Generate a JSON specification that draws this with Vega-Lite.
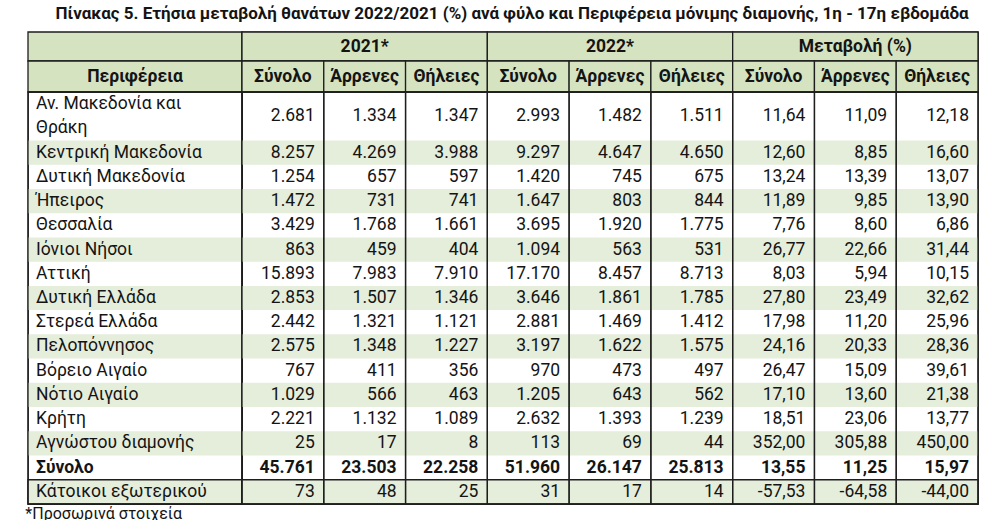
{
  "$schema": "https://vega.github.io/schema/vega-lite/v6.json",
  "padding": {"left": 24, "top": 4, "right": 0, "bottom": 0},
  "title": {
    "text": "Πίνακας 5. Ετήσια μεταβολή θανάτων 2022/2021 (%) ανά φύλο και Περιφέρεια μόνιμης διαμονής, 1η - 17η εβδομάδα",
    "fontSize": 17,
    "fontWeight": "bold",
    "anchor": "middle",
    "offset": 8,
    "dx": 10
  },
  "datasets": {
    "rows": [
      {"region": "Αν. Μακεδονία και\nΘράκη", "t21": 2681, "m21": 1334, "f21": 1347, "t22": 2993, "m22": 1482, "f22": 1511, "tc": 11.64, "mc": 11.09, "fc": 12.18},
      {"region": "Κεντρική Μακεδονία", "t21": 8257, "m21": 4269, "f21": 3988, "t22": 9297, "m22": 4647, "f22": 4650, "tc": 12.60, "mc": 8.85, "fc": 16.60},
      {"region": "Δυτική Μακεδονία", "t21": 1254, "m21": 657, "f21": 597, "t22": 1420, "m22": 745, "f22": 675, "tc": 13.24, "mc": 13.39, "fc": 13.07},
      {"region": "Ήπειρος", "t21": 1472, "m21": 731, "f21": 741, "t22": 1647, "m22": 803, "f22": 844, "tc": 11.89, "mc": 9.85, "fc": 13.90},
      {"region": "Θεσσαλία", "t21": 3429, "m21": 1768, "f21": 1661, "t22": 3695, "m22": 1920, "f22": 1775, "tc": 7.76, "mc": 8.60, "fc": 6.86},
      {"region": "Ιόνιοι Νήσοι", "t21": 863, "m21": 459, "f21": 404, "t22": 1094, "m22": 563, "f22": 531, "tc": 26.77, "mc": 22.66, "fc": 31.44},
      {"region": "Αττική", "t21": 15893, "m21": 7983, "f21": 7910, "t22": 17170, "m22": 8457, "f22": 8713, "tc": 8.03, "mc": 5.94, "fc": 10.15},
      {"region": "Δυτική Ελλάδα", "t21": 2853, "m21": 1507, "f21": 1346, "t22": 3646, "m22": 1861, "f22": 1785, "tc": 27.80, "mc": 23.49, "fc": 32.62},
      {"region": "Στερεά Ελλάδα", "t21": 2442, "m21": 1321, "f21": 1121, "t22": 2881, "m22": 1469, "f22": 1412, "tc": 17.98, "mc": 11.20, "fc": 25.96},
      {"region": "Πελοπόννησος", "t21": 2575, "m21": 1348, "f21": 1227, "t22": 3197, "m22": 1622, "f22": 1575, "tc": 24.16, "mc": 20.33, "fc": 28.36},
      {"region": "Βόρειο Αιγαίο", "t21": 767, "m21": 411, "f21": 356, "t22": 970, "m22": 473, "f22": 497, "tc": 26.47, "mc": 15.09, "fc": 39.61},
      {"region": "Νότιο Αιγαίο", "t21": 1029, "m21": 566, "f21": 463, "t22": 1205, "m22": 643, "f22": 562, "tc": 17.10, "mc": 13.60, "fc": 21.38},
      {"region": "Κρήτη", "t21": 2221, "m21": 1132, "f21": 1089, "t22": 2632, "m22": 1393, "f22": 1239, "tc": 18.51, "mc": 23.06, "fc": 13.77},
      {"region": "Αγνώστου διαμονής", "t21": 25, "m21": 17, "f21": 8, "t22": 113, "m22": 69, "f22": 44, "tc": 352.00, "mc": 305.88, "fc": 450.00},
      {"region": "Σύνολο", "t21": 45761, "m21": 23503, "f21": 22258, "t22": 51960, "m22": 26147, "f22": 25813, "tc": 13.55, "mc": 11.25, "fc": 15.97},
      {"region": "Κάτοικοι εξωτερικού", "t21": 73, "m21": 48, "f21": 25, "t22": 31, "m22": 17, "f22": 14, "tc": -57.53, "mc": -64.58, "fc": -44.00}
    ],
    "groups": [
      {"grp": "2021*"},
      {"grp": "2022*"},
      {"grp": "Μεταβολή (%)"}
    ],
    "measures": [
      {"col": "t21", "label": "Σύνολο"},
      {"col": "m21", "label": "Άρρενες"},
      {"col": "f21", "label": "Θήλειες"},
      {"col": "t22", "label": "Σύνολο"},
      {"col": "m22", "label": "Άρρενες"},
      {"col": "f22", "label": "Θήλειες"},
      {"col": "tc", "label": "Σύνολο"},
      {"col": "mc", "label": "Άρρενες"},
      {"col": "fc", "label": "Θήλειες"}
    ]
  },
  "columns": 2,
  "spacing": 0,
  "bounds": "flush",
  "concat": [
    {
      "width": 214,
      "height": 29,
      "data": {"values": [{}]},
      "mark": {"type": "rect", "fill": "#d5e3c1", "stroke": "#1e1e1e", "strokeWidth": 1.3},
      "encoding": {}
    },
    {
      "width": 736,
      "height": 29,
      "data": {"name": "groups"},
      "encoding": {
        "x": {"field": "grp", "type": "nominal", "axis": null,
          "scale": {"type": "band", "domain": ["2021*", "2022*", "Μεταβολή (%)"], "paddingInner": 0, "paddingOuter": 0}}
      },
      "layer": [
        {"mark": {"type": "rect", "fill": "#d5e3c1", "stroke": "#1e1e1e", "strokeWidth": 1.3}},
        {"mark": {"type": "text", "fontWeight": "bold", "align": "center"}, "encoding": {"text": {"field": "grp"}}}
      ]
    },
    {
      "width": 214,
      "height": 31,
      "data": {"values": [{"label": "Περιφέρεια"}]},
      "layer": [
        {
          "mark": {"type": "rect", "fill": "#d5e3c1", "stroke": "#1e1e1e", "strokeWidth": 1.3},
          "encoding": {}
        },
        {
          "mark": {"type": "text", "fontWeight": "bold", "align": "center"},
          "encoding": {"text": {"field": "label"}}
        }
      ]
    },
    {
      "width": 736,
      "height": 31,
      "data": {"name": "measures"},
      "encoding": {
        "x": {"field": "col", "type": "nominal", "axis": null,
          "scale": {"type": "band", "domain": ["t21", "m21", "f21", "t22", "m22", "f22", "tc", "mc", "fc"], "paddingInner": 0, "paddingOuter": 0}}
      },
      "layer": [
        {"mark": {"type": "rect", "fill": "#d5e3c1", "stroke": "#1e1e1e", "strokeWidth": 1.3}},
        {"mark": {"type": "text", "fontWeight": "bold", "align": "center"}, "encoding": {"text": {"field": "label"}}}
      ]
    },
    {
      "width": 214,
      "height": 412,
      "data": {"name": "rows"},
      "title": {"text": "*Προσωρινά στοιχεία", "orient": "bottom", "anchor": "start", "fontSize": 16, "fontWeight": "normal", "offset": 1, "dx": -2},
      "layer": [
        {
          "transform": [
            {"window": [{"op": "row_number", "as": "n"}]},
            {"filter": "datum.n % 2 === 0"}
          ],
          "mark": {"type": "rect", "fill": "#e5eddb"},
          "encoding": {
            "y": {"field": "region", "type": "nominal", "axis": null,
              "scale": {"type": "band", "paddingInner": 0, "paddingOuter": 0,
                "domain": ["Αν. Μακεδονία και\nΘράκη", "_", "Κεντρική Μακεδονία", "Δυτική Μακεδονία", "Ήπειρος", "Θεσσαλία", "Ιόνιοι Νήσοι", "Αττική", "Δυτική Ελλάδα", "Στερεά Ελλάδα", "Πελοπόννησος", "Βόρειο Αιγαίο", "Νότιο Αιγαίο", "Κρήτη", "Αγνώστου διαμονής", "Σύνολο", "Κάτοικοι εξωτερικού"]}}
          }
        },
        {
          "transform": [{"filter": "datum.region === 'Κάτοικοι εξωτερικού'"}],
          "mark": {"type": "rect", "filled": false, "stroke": "#1e1e1e", "strokeWidth": 1.3},
          "encoding": {
            "y": {"field": "region", "type": "nominal", "axis": null}
          }
        },
        {
          "data": {"values": [{}]},
          "mark": {"type": "rect", "filled": false, "stroke": "#1e1e1e", "strokeWidth": 1.3},
          "encoding": {}
        },
        {
          "transform": [{"filter": "datum.region !== 'Σύνολο' && !test(/Θράκη/, datum.region)"}],
          "mark": {"type": "text", "align": "left", "dx": 8},
          "encoding": {
            "x": {"datum": "Περιφέρεια", "type": "nominal", "bandPosition": 0, "axis": null,
              "scale": {"type": "band", "domain": ["Περιφέρεια"], "paddingInner": 0, "paddingOuter": 0}},
            "y": {"field": "region", "type": "nominal", "axis": null},
            "text": {"field": "region"}
          }
        },
        {
          "transform": [{"filter": "test(/Θράκη/, datum.region)"}],
          "mark": {"type": "text", "align": "left", "dx": 8, "dy": 0, "lineBreak": "\n", "lineHeight": 24},
          "encoding": {
            "x": {"datum": "Περιφέρεια", "type": "nominal", "bandPosition": 0, "axis": null},
            "y": {"field": "region", "type": "nominal", "axis": null},
            "text": {"field": "region"}
          }
        },
        {
          "transform": [{"filter": "datum.region === 'Σύνολο'"}],
          "mark": {"type": "text", "align": "left", "dx": 8, "fontWeight": "bold"},
          "encoding": {
            "x": {"datum": "Περιφέρεια", "type": "nominal", "bandPosition": 0, "axis": null},
            "y": {"field": "region", "type": "nominal", "axis": null},
            "text": {"field": "region"}
          }
        }
      ]
    },
    {
      "width": 736,
      "height": 412,
      "data": {"name": "rows"},
      "layer": [
        {
          "transform": [
            {"window": [{"op": "row_number", "as": "n"}]},
            {"filter": "datum.n % 2 === 0"}
          ],
          "mark": {"type": "rect", "fill": "#e5eddb"},
          "encoding": {
            "y": {"field": "region", "type": "nominal", "axis": null,
              "scale": {"type": "band", "paddingInner": 0, "paddingOuter": 0,
                "domain": ["Αν. Μακεδονία και\nΘράκη", "_", "Κεντρική Μακεδονία", "Δυτική Μακεδονία", "Ήπειρος", "Θεσσαλία", "Ιόνιοι Νήσοι", "Αττική", "Δυτική Ελλάδα", "Στερεά Ελλάδα", "Πελοπόννησος", "Βόρειο Αιγαίο", "Νότιο Αιγαίο", "Κρήτη", "Αγνώστου διαμονής", "Σύνολο", "Κάτοικοι εξωτερικού"]}}
          }
        },
        {
          "data": {"name": "measures"},
          "mark": {"type": "rect", "filled": false, "stroke": "#1e1e1e", "strokeWidth": 1.3},
          "encoding": {
            "x": {"field": "col", "type": "nominal", "axis": null,
              "scale": {"type": "band", "domain": ["t21", "m21", "f21", "t22", "m22", "f22", "tc", "mc", "fc"], "paddingInner": 0, "paddingOuter": 0}}
          }
        },
        {
          "transform": [{"filter": "datum.region === 'Κάτοικοι εξωτερικού'"}],
          "mark": {"type": "rect", "filled": false, "stroke": "#1e1e1e", "strokeWidth": 1.3},
          "encoding": {
            "y": {"field": "region", "type": "nominal", "axis": null}
          }
        },
        {
          "transform": [
            {"filter": "datum.region !== 'Σύνολο' && !test(/Θράκη/, datum.region)"},
            {"fold": ["t21", "m21", "f21", "t22", "m22", "f22"], "as": ["col", "value"]}
          ],
          "mark": {"type": "text", "align": "right", "dx": -9},
          "encoding": {
            "x": {"field": "col", "type": "nominal", "axis": null, "bandPosition": 1},
            "y": {"field": "region", "type": "nominal", "axis": null},
            "text": {"field": "value", "type": "quantitative", "format": ",.0f"}
          }
        },
        {
          "transform": [
            {"filter": "test(/Θράκη/, datum.region)"},
            {"fold": ["t21", "m21", "f21", "t22", "m22", "f22"], "as": ["col", "value"]}
          ],
          "mark": {"type": "text", "align": "right", "dx": -9, "dy": 12},
          "encoding": {
            "x": {"field": "col", "type": "nominal", "axis": null, "bandPosition": 1},
            "y": {"field": "region", "type": "nominal", "axis": null},
            "text": {"field": "value", "type": "quantitative", "format": ",.0f"}
          }
        },
        {
          "transform": [
            {"filter": "datum.region === 'Σύνολο'"},
            {"fold": ["t21", "m21", "f21", "t22", "m22", "f22"], "as": ["col", "value"]}
          ],
          "mark": {"type": "text", "align": "right", "dx": -9, "fontWeight": "bold"},
          "encoding": {
            "x": {"field": "col", "type": "nominal", "axis": null, "bandPosition": 1},
            "y": {"field": "region", "type": "nominal", "axis": null},
            "text": {"field": "value", "type": "quantitative", "format": ",.0f"}
          }
        },
        {
          "transform": [
            {"filter": "datum.region !== 'Σύνολο' && !test(/Θράκη/, datum.region)"},
            {"fold": ["tc", "mc", "fc"], "as": ["col", "value"]}
          ],
          "mark": {"type": "text", "align": "right", "dx": -9},
          "encoding": {
            "x": {"field": "col", "type": "nominal", "axis": null, "bandPosition": 1},
            "y": {"field": "region", "type": "nominal", "axis": null},
            "text": {"field": "value", "type": "quantitative", "format": ",.2f"}
          }
        },
        {
          "transform": [
            {"filter": "test(/Θράκη/, datum.region)"},
            {"fold": ["tc", "mc", "fc"], "as": ["col", "value"]}
          ],
          "mark": {"type": "text", "align": "right", "dx": -9, "dy": 12},
          "encoding": {
            "x": {"field": "col", "type": "nominal", "axis": null, "bandPosition": 1},
            "y": {"field": "region", "type": "nominal", "axis": null},
            "text": {"field": "value", "type": "quantitative", "format": ",.2f"}
          }
        },
        {
          "transform": [
            {"filter": "datum.region === 'Σύνολο'"},
            {"fold": ["tc", "mc", "fc"], "as": ["col", "value"]}
          ],
          "mark": {"type": "text", "align": "right", "dx": -9, "fontWeight": "bold"},
          "encoding": {
            "x": {"field": "col", "type": "nominal", "axis": null, "bandPosition": 1},
            "y": {"field": "region", "type": "nominal", "axis": null},
            "text": {"field": "value", "type": "quantitative", "format": ",.2f"}
          }
        }
      ]
    }
  ],
  "config": {
    "view": {"stroke": "#1e1e1e", "strokeWidth": 1.3},
    "text": {"font": "Roboto", "fontSize": 17.5, "color": "#141414", "baseline": "middle"},
    "title": {"font": "Roboto", "color": "#141414"},
    "locale": {
      "number": {"decimal": ",", "thousands": ".", "grouping": [3], "currency": ["", " €"], "minus": "-"}
    }
  }
}
